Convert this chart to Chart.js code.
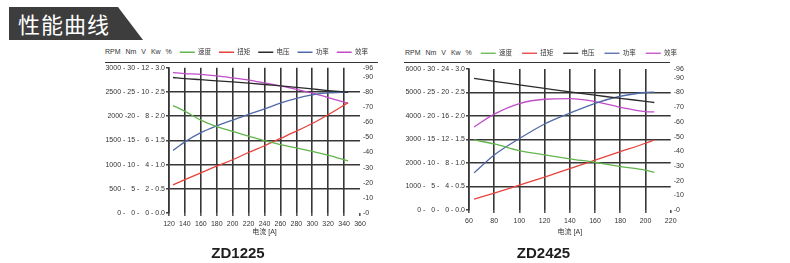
<!DOCTYPE html>
<html>
<head>
<meta charset="utf-8">
<script src="https://cdn.jsdelivr.net/npm/chart.js@4.4.1/dist/chart.umd.min.js"></script>
<style>
  body { margin: 0; background: #fff; width: 790px; height: 263px; position: relative; overflow: hidden; font-family: Arial, "Liberation Sans", "Noto Sans CJK SC", sans-serif; }
  .banner { position: absolute; left: 9px; top: 7px; width: 134px; height: 33px; background: #3d3d3d; clip-path: polygon(0 0, 109px 0, 134px 100%, 0 100%); }
  .banner span { position: absolute; left: 9px; top: 3px; color: #fff; font-size: 22px; line-height: 26px; font-family: "Noto Sans CJK SC", sans-serif; letter-spacing: 1px; }
  .units { position: absolute; font-size: 7px; line-height: 8px; color: #333; white-space: pre; word-spacing: 3px; }
  .sep { position: absolute; height: 1px; background: #333; }
  canvas { position: absolute; }
</style>
</head>
<body>
<div class="banner"><span>性能曲线</span></div>

<div class="units" style="left:105px; top:48px;">RPM Nm V Kw %</div>
<div class="sep" style="left:105px; top:62px; width:273px;"></div>
<canvas id="chart1" width="276" height="222" style="left:100px; top:41px;"></canvas>

<div class="units" style="left:405px; top:49px;">RPM Nm V Kw %</div>
<div class="sep" style="left:404px; top:62px; width:266px;"></div>
<canvas id="chart2" width="287" height="223" style="left:400px; top:40px;"></canvas>

<script>
// ZD1225
const current1 = [125, 140, 160, 180, 200, 220, 240, 260, 280, 300, 320, 345];
const speed1 = [2220, 2100, 1920, 1785, 1685, 1590, 1495, 1415, 1345, 1272, 1198, 1075];
const torque1 = [5.8, 6.9, 8.3, 9.7, 11.0, 12.5, 13.9, 15.4, 16.9, 18.5, 20.3, 22.8];
const voltage1 = [11.2, 11.1, 11.02, 10.92, 10.83, 10.73, 10.62, 10.5, 10.38, 10.25, 10.12, 9.98];
const power1 = [1.29, 1.47, 1.66, 1.8, 1.92, 2.04, 2.15, 2.27, 2.37, 2.44, 2.48, 2.5];
const eff1 = [92.8, 92.2, 91.6, 90.6, 89.3, 87.9, 86.0, 84.0, 81.8, 79.2, 76.3, 72.5];
const leftTicks1 = [0, 500, 1000, 1500, 2000, 2500, 3000];
const leftLabels1 = ['0 -   0 -   0 - 0.0', '500 -   5 -   2 - 0.5', '1000 - 10 -   4 - 1.0', '1500 - 15 -   6 - 1.5',
  '2000 -20 -   8 - 2.0', '2500 - 25 - 10 - 2.5', '3000 - 30 - 12 - 3.0'];

// ZD2425
const current2 = [64, 80, 100, 120, 140, 160, 180, 200, 207];
const speed2 = [2980, 2810, 2530, 2350, 2180, 2030, 1850, 1700, 1600];
const torque2 = [2.3, 3.6, 5.3, 7.0, 8.8, 10.6, 12.4, 14.2, 14.9];
const voltage2 = [22.4, 21.9, 21.3, 20.7, 20.1, 19.55, 19.0, 18.5, 18.3];
const power2 = [0.79, 1.17, 1.52, 1.83, 2.06, 2.27, 2.42, 2.5, 2.51];
const eff2 = [56.5, 65.3, 72.5, 75.4, 75.8, 73.8, 69.9, 67.0, 66.8];
const leftTicks2 = [0, 1000, 2000, 3000, 4000, 5000, 6000];
const leftLabels2 = ['0 -   0 -   0 - 0.0', '1000 -   5 -   4 - 0.5', '2000 - 10 -   8 - 1.0', '3000 - 15 - 12 - 1.5',
  '4000 - 20 - 16 - 2.0', '5000 - 25 - 20 - 2.5', '6000 - 30 - 24 - 3.0'];

const pctTicks = [0, 10, 20, 30, 40, 50, 60, 70, 80, 90, 96];
const seriesNames = ['速度', '扭矩', '电压', '功率', '效率'];
const seriesColors = ['#62b54c', '#e8423c', '#2b2b2b', '#5069a8', '#c04dc8'];

Chart.defaults.font.family = 'Arial, "Liberation Sans", "Noto Sans CJK SC", sans-serif';
Chart.defaults.color = '#333';

const GRID = '#363636';
const NONE = 'rgba(0,0,0,0)';

// pushes the plot area a bit further below the legend
const legendGap = {
  id: 'legendGap',
  beforeLayout(chart, args, opts) {
    const lg = chart.legend;
    if (!lg || lg._gapDone) return;
    const fit = lg.fit;
    lg.fit = function () { fit.call(this); this.height += opts.gap; };
    lg._gapDone = true;
  }
};

function pts(xs, ys) {
  return xs.map((x, i) => ({ x: x, y: ys[i] }));
}

function buildChart(id, c) {
  const sets = [c.speed, c.torque, c.voltage, c.power, c.eff];
  const axes = ['y', 'yNm', 'yV', 'yKw', 'yPct'];
  new Chart(document.getElementById(id), {
    type: 'line',
    data: {
      datasets: sets.map((s, i) => ({
        label: seriesNames[i],
        data: pts(c.current, s),
        yAxisID: axes[i],
        borderColor: seriesColors[i],
        backgroundColor: seriesColors[i],
        borderWidth: 1.3
      }))
    },
    plugins: [legendGap],
    options: {
      responsive: false,
      animation: false,
      layout: { padding: 0 },
      elements: { point: { radius: 0 }, line: { cubicInterpolationMode: 'monotone' } },
      plugins: {
        legendGap: { gap: c.gap },
        legend: {
          align: 'end',
          labels: { font: { size: 6.5 }, color: '#333', usePointStyle: true, pointStyle: 'line', pointStyleWidth: 15, padding: c.legendPad }
        },
        title: {
          display: true, position: 'bottom', text: c.name, color: '#1e1e1e',
          font: { size: 15, weight: 'bold' }, padding: { top: 7.8, bottom: 0.5 }
        },
        tooltip: { enabled: false }
      },
      scales: {
        x: {
          type: 'linear', min: c.xMin, max: c.xMax,
          ticks: { stepSize: 20, font: { size: 7 }, color: '#333', padding: 4, maxRotation: 0, minRotation: 0, autoSkip: false },
          grid: { color: ctx => ctx.tick && ctx.tick.value === c.xMax ? NONE : GRID, lineWidth: 1.6, tickLength: 3, tickColor: '#555' },
          border: { display: false },
          title: { display: true, text: '电流 [A]', font: { size: 7 }, color: '#333', padding: { top: 0, bottom: 0.8 } },
          afterFit: s => { s.height = c.xHeight; }
        },
        y: {
          position: 'left', min: 0, max: c.leftTicks[c.leftTicks.length - 1],
          afterBuildTicks: s => { s.ticks = c.leftTicks.map(v => ({ value: v })); },
          ticks: { font: { size: 7 }, color: '#333', padding: 1, callback: v => c.leftLabels[c.leftTicks.indexOf(v)] },
          grid: {
            color: ctx => (ctx.tick && (ctx.tick.value === 0 || ctx.tick.value === c.leftTicks[c.leftTicks.length - 1])) ? NONE : GRID,
            lineWidth: 1.6, tickLength: 3, tickColor: '#444'
          },
          border: { display: true, color: GRID, width: 1.6 },
          afterFit: s => { s.width = 69; }
        },
        yPct: {
          position: 'right', min: 0, max: 96,
          afterBuildTicks: s => { s.ticks = pctTicks.map(v => ({ value: v })); },
          ticks: { font: { size: 7 }, color: '#333', padding: 3, callback: v => '-' + v },
          grid: { display: false, drawTicks: false },
          border: { display: false },
          afterFit: s => { s.width = c.rightWidth; }
        },
        yNm: { display: false, min: 0, max: c.nmMax },
        yV: { display: false, min: 0, max: c.vMax },
        yKw: { display: false, min: 0, max: 3 }
      }
    }
  });
}

buildChart('chart1', {
  name: 'ZD1225', current: current1, speed: speed1, torque: torque1, voltage: voltage1, power: power1, eff: eff1,
  leftTicks: leftTicks1, leftLabels: leftLabels1, xMin: 120, xMax: 360, nmMax: 30, vMax: 12,
  legendPad: 8, gap: 2.3, xHeight: 23.7, rightWidth: 16
});

buildChart('chart2', {
  name: 'ZD2425', current: current2, speed: speed2, torque: torque2, voltage: voltage2, power: power2, eff: eff2,
  leftTicks: leftTicks2, leftLabels: leftLabels2, xMin: 60, xMax: 220, nmMax: 30, vMax: 24,
  legendPad: 10, gap: 2.5, xHeight: 26.7, rightWidth: 16.3
});
</script>
</body>
</html>
